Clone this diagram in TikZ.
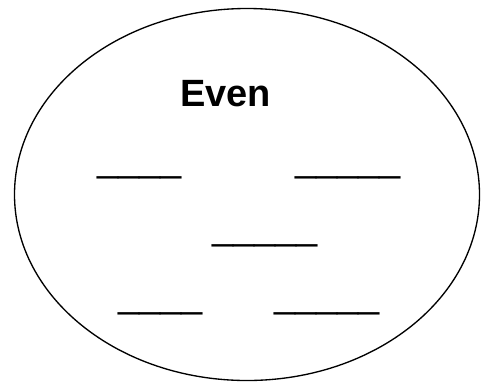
\documentclass[tikz,border=0pt]{standalone}
\usepackage{fontspec}
\setmainfont{Liberation Sans}
\begin{document}
\begin{tikzpicture}[x=0.75pt,y=-0.75pt,
  blank/.style={inner sep=0pt,outer sep=0pt,anchor=base west,font=\fontsize{28.5}{34}\selectfont},
  title/.style={inner sep=0pt,outer sep=0pt,anchor=base west,font=\fontsize{28.5}{34}\selectfont\bfseries}]
\useasboundingbox (0,0) rectangle (481,383);
\draw[line width=1pt] (247,194.5) ellipse [x radius=232.5, y radius=186];
\node[title] (even) at (180,106) {Even};
\node[blank] (b1) at (97.5,171) {\_\_\_\_};
\node[blank] (b2) at (295,171) {\_\_\_\_\_};
\node[blank] (b3) at (212,239.5) {\_\_\_\_\_};
\node[blank] (b4) at (118.5,307) {\_\_\_\_};
\node[blank] (b5) at (274,307) {\_\_\_\_\_};
\end{tikzpicture}
\end{document}
